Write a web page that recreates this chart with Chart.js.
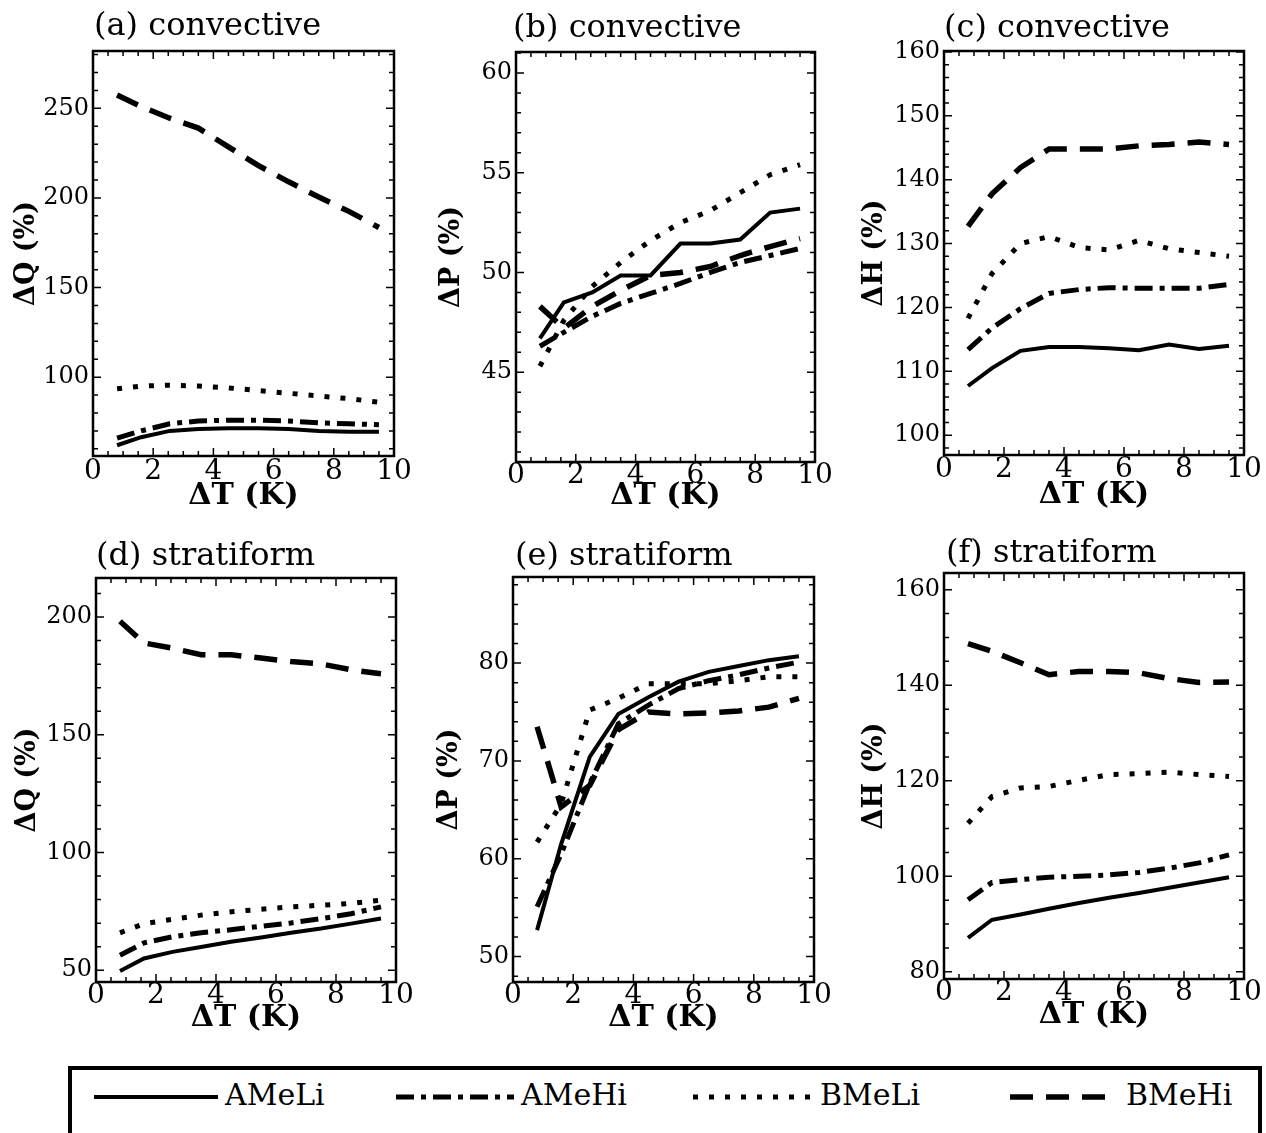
<!DOCTYPE html>
<html><head><meta charset="utf-8">
<script src="https://cdn.jsdelivr.net/npm/chart.js@4.4.1/dist/chart.umd.min.js"></script>
<style>
html,body{margin:0;padding:0;background:#fff;width:1266px;height:1133px;overflow:hidden;position:relative;}
canvas{position:absolute;}
#legendBox{position:absolute;left:68px;top:1066px;width:1186px;height:100px;border:4px solid #000;}
.lt{position:absolute;font-family:'DejaVu Serif';font-size:30px;line-height:30px;color:#000;white-space:nowrap;}
#legendSvg{position:absolute;left:0;top:1066px;}
</style></head><body>
<div id="legendBox"></div>
<svg id="legendSvg" width="1266" height="67"></svg>
<script>
// ---------- DATA ----------
const deltaT = [0.8, 1.6, 2.55, 3.5, 4.5, 5.5, 6.5, 7.5, 8.5, 9.5];
const xTickLabels = [0, 2, 4, 6, 8, 10];
const seriesNames = ['AMeLi', 'AMeHi', 'BMeLi', 'BMeHi'];

// (a) convective ΔQ
const a_AMeLi = [62, 66.5, 70, 71, 71.5, 71.5, 71, 70, 69.5, 69.5];
const a_AMeHi = [66, 70, 74, 75.5, 76, 76, 75.5, 74.5, 74, 73.5];
const a_BMeLi = [93.5, 95, 95.5, 95, 94, 92.5, 91, 89.5, 88, 86];
const a_BMeHi = [257.5, 251, 244.5, 239, 228.5, 218, 209, 200.5, 192.5, 183.5];
// (b) convective ΔP
const b_AMeLi = [46.7, 48.5, 49.0, 49.85, 49.85, 51.45, 51.45, 51.65, 53.0, 53.2];
const b_AMeHi = [46.3, 47.0, 47.8, 48.45, 48.95, 49.45, 50.0, 50.5, 50.85, 51.2];
const b_BMeLi = [45.3, 47.6, 49.3, 50.5, 51.6, 52.5, 53.1, 54.0, 54.9, 55.4];
const b_BMeHi = [48.3, 47.2, 48.3, 49.1, 49.85, 50.0, 50.3, 50.85, 51.3, 51.7];
// (c) convective ΔH
const c_AMeLi = [107.7, 110.5, 113.2, 113.8, 113.8, 113.6, 113.3, 114.2, 113.5, 114.0];
const c_AMeHi = [113.4, 116.8, 119.8, 122.2, 122.8, 123.1, 123.0, 123.0, 123.0, 123.6];
const c_BMeLi = [118.3, 125.3, 130.0, 131.1, 129.4, 129.0, 130.5, 129.2, 128.6, 128.0];
const c_BMeHi = [132.7, 137.8, 141.9, 144.8, 144.8, 144.8, 145.3, 145.5, 145.9, 145.5];
// (d) stratiform ΔQ
const d_AMeLi = [49.7, 55.0, 57.8, 59.9, 62.1, 63.9, 65.9, 67.7, 69.8, 72.0];
const d_AMeHi = [56.4, 61.6, 64.2, 65.9, 67.2, 68.7, 70.1, 71.9, 74.0, 76.9];
const d_BMeLi = [65.9, 69.8, 71.6, 73.4, 74.8, 75.9, 76.9, 77.6, 78.4, 79.8];
const d_BMeHi = [198.2, 189.0, 186.8, 184.0, 184.0, 182.6, 181.1, 180.1, 177.6, 175.9];
// (e) stratiform ΔP
const e_AMeLi = [52.7, 61.5, 70.4, 74.8, 76.5, 78.1, 79.1, 79.7, 80.3, 80.7];
const e_AMeHi = [55.1, 60.5, 67.7, 73.8, 75.7, 77.4, 78.2, 78.8, 79.5, 80.1];
const e_BMeLi = [61.7, 65.6, 75.2, 76.4, 77.9, 77.9, 77.9, 78.2, 78.6, 78.6];
const e_BMeHi = [73.5, 65.3, 67.5, 73.2, 75.0, 74.8, 74.9, 75.1, 75.5, 76.4];
// (f) stratiform ΔH
const f_AMeLi = [87.1, 90.9, 92.0, 93.2, 94.4, 95.5, 96.5, 97.6, 98.7, 99.8];
const f_AMeHi = [95.1, 98.7, 99.3, 99.8, 100.0, 100.3, 100.8, 101.7, 102.8, 104.5];
const f_BMeLi = [111.1, 116.7, 118.5, 118.8, 120.1, 121.3, 121.5, 121.8, 121.3, 120.9];
const f_BMeHi = [148.7, 147.1, 144.7, 142.2, 142.9, 142.9, 142.6, 141.4, 140.6, 140.7];

const panelTitles = ['(a) convective', '(b) convective', '(c) convective', '(d) stratiform', '(e) stratiform', '(f) stratiform'];
const yAxisTitles = ['ΔQ (%)', 'ΔP (%)', 'ΔH (%)', 'ΔQ (%)', 'ΔP (%)', 'ΔH (%)'];
const xAxisTitle = 'ΔT (K)';

const yTicksA = [100, 150, 200, 250];
const yTicksB = [45, 50, 55, 60];
const yTicksC = [100, 110, 120, 130, 140, 150, 160];
const yTicksD = [50, 100, 150, 200];
const yTicksE = [50, 60, 70, 80];
const yTicksF = [80, 100, 120, 140, 160];

const yRanges = [[56, 282], [40.5, 61.05], [96.9, 160.15], [45, 216.6], [47.4, 88.8], [78.5, 163.5]];
const yMinorSteps = [10, 1, 2, 10, 2, 5];

const panelValues = [
  [a_AMeLi, a_AMeHi, a_BMeLi, a_BMeHi],
  [b_AMeLi, b_AMeHi, b_BMeLi, b_BMeHi],
  [c_AMeLi, c_AMeHi, c_BMeLi, c_BMeHi],
  [d_AMeLi, d_AMeHi, d_BMeLi, d_BMeHi],
  [e_AMeLi, e_AMeHi, e_BMeLi, e_BMeHi],
  [f_AMeLi, f_AMeHi, f_BMeLi, f_BMeHi]
];
const panelYTicks = [yTicksA, yTicksB, yTicksC, yTicksD, yTicksE, yTicksF];

// ---------- STYLES / LAYOUT ----------
const lineStyles = [
  {width: 4, dash: []},
  {width: 5, dash: [18, 7, 5, 7]},
  {width: 5, dash: [5, 11]},
  {width: 5.5, dash: [23, 13]}
];
const FONT = 'DejaVu Serif';
const YAXW = 93, PADT = 51, PADR = 24, XAXH = 62;
const layouts = [
  {L: 93, R: 394, T: 51, B: 456, dx: 1, dy: 16, yGap: 66, xLab: 472, xTit: 496},
  {L: 516, R: 815, T: 52, B: 462, dx: -3, dy: 15, yGap: 64.5, xLab: 471, xTit: 496},
  {L: 944, R: 1244, T: 51, B: 455, dx: 0, dy: 14, yGap: 69.5, xLab: 470, xTit: 495},
  {L: 96, R: 396, T: 578, B: 982, dx: 0, dy: 13, yGap: 68.5, xLab: 995, xTit: 1018},
  {L: 513, R: 814, T: 577, B: 982, dx: 2, dy: 12, yGap: 63.5, xLab: 995, xTit: 1018},
  {L: 944, R: 1244, T: 573, B: 979, dx: 2, dy: 11, yGap: 69.5, xLab: 991, xTit: 1015}
];

const decor = {
  id: 'panelDecor',
  afterDatasetsDraw(chart, args, opts) {
    const {ctx, chartArea} = chart;
    const {left, right, top, bottom} = chartArea;
    const xs = chart.scales.x, ys = chart.scales.y;
    ctx.save();
    ctx.strokeStyle = '#000';
    ctx.lineWidth = 1.5;
    ctx.beginPath();
    const nx = Math.round((xs.max - xs.min) / opts.xMinor);
    for (let k = 0; k <= nx; k++) {
      const v = xs.min + k * opts.xMinor;
      const px = xs.getPixelForValue(v);
      const len = opts.xMajor.includes(v) ? 8 : 5;
      ctx.moveTo(px, bottom); ctx.lineTo(px, bottom - len);
      ctx.moveTo(px, top); ctx.lineTo(px, top + len);
    }
    const start = Math.ceil(ys.min / opts.yMinor - 1e-9);
    const end = Math.floor(ys.max / opts.yMinor + 1e-9);
    for (let k = start; k <= end; k++) {
      const v = k * opts.yMinor;
      const py = ys.getPixelForValue(v);
      const len = opts.yMajor.some(t => Math.abs(t - v) < 1e-6) ? 8 : 5;
      ctx.moveTo(left, py); ctx.lineTo(left + len, py);
      ctx.moveTo(right, py); ctx.lineTo(right - len, py);
    }
    ctx.stroke();
    ctx.lineWidth = 2.5;
    ctx.strokeRect(left, top, right - left, bottom - top);
    ctx.fillStyle = '#000';
    ctx.font = '32px "' + FONT + '"';
    ctx.textBaseline = 'alphabetic';
    ctx.textAlign = 'left';
    ctx.fillText(opts.text, left + opts.dx, top - opts.dy);
    ctx.restore();
  }
};

panelValues.forEach((vals, i) => {
  const g = layouts[i];
  const W = (g.R - g.L) + YAXW + PADR;
  const H = (g.B - g.T) + PADT + XAXH;
  const cv = document.createElement('canvas');
  cv.width = W; cv.height = H;
  cv.style.left = (g.L - YAXW) + 'px';
  cv.style.top = (g.T - PADT) + 'px';
  cv.style.width = W + 'px'; cv.style.height = H + 'px';
  document.body.appendChild(cv);
  const yt = panelYTicks[i];
  new Chart(cv, {
    type: 'line',
    data: {
      datasets: seriesNames.map((name, s) => ({
        label: name,
        data: deltaT.map((x, j) => ({x: x, y: vals[s][j]})),
        borderColor: '#000',
        backgroundColor: '#000',
        borderWidth: lineStyles[s].width,
        borderDash: lineStyles[s].dash,
        borderCapStyle: 'butt',
        borderJoinStyle: 'miter',
        pointRadius: 0,
        fill: false,
        tension: 0
      }))
    },
    options: {
      responsive: false,
      animation: false,
      devicePixelRatio: 1,
      layout: {padding: {top: PADT, right: PADR, left: 0, bottom: 0}},
      plugins: {
        legend: {display: false},
        tooltip: {enabled: false},
        panelDecor: {text: panelTitles[i], dx: g.dx, dy: g.dy, xMinor: 0.5, xMajor: xTickLabels, yMinor: yMinorSteps[i], yMajor: yt}
      },
      scales: {
        x: {
          type: 'linear', min: 0, max: 10,
          afterBuildTicks: s => { s.ticks = xTickLabels.map(v => ({value: v})); },
          afterFit: s => { s.height = XAXH; },
          grid: {display: false, drawTicks: false},
          border: {display: false},
          ticks: {color: '#000', font: {family: FONT, size: 28, lineHeight: 1}, padding: Math.max(0, (g.xLab - g.B) - 14), maxRotation: 0, autoSkip: false},
          title: {display: true, text: xAxisTitle, color: '#000', font: {family: FONT, size: 30, weight: 'bold'}, padding: {top: 0, bottom: XAXH - (g.xTit - g.B) - 18}}
        },
        y: {
          type: 'linear', min: yRanges[i][0], max: yRanges[i][1],
          afterBuildTicks: s => { s.ticks = yt.map(v => ({value: v})); },
          afterFit: s => { s.width = YAXW; },
          grid: {display: false, drawTicks: false},
          border: {display: false},
          ticks: {color: '#000', font: {family: FONT, size: 24}, padding: 4, autoSkip: false},
          title: {display: true, text: yAxisTitles[i], color: '#000', font: {family: FONT, size: 27, weight: 'bold'}, padding: {top: YAXW - g.yGap - 16.2, bottom: 0}}
        }
      }
    },
    plugins: [decor]
  });
});

// ---------- LEGEND ----------
const legendItems = [
  {x1: 94, x2: 218, tx: 225},
  {x1: 396, x2: 514, tx: 521},
  {x1: 693, x2: 814, tx: 820},
  {x1: 1010, x2: 1110, tx: 1126}
];
const svg = document.getElementById('legendSvg');
const NS = 'http://www.w3.org/2000/svg';
seriesNames.forEach((name, s) => {
  const it = legendItems[s];
  const ln = document.createElementNS(NS, 'line');
  ln.setAttribute('x1', it.x1); ln.setAttribute('x2', it.x2);
  ln.setAttribute('y1', 31); ln.setAttribute('y2', 31);
  ln.setAttribute('stroke', '#000');
  ln.setAttribute('stroke-width', lineStyles[s].width);
  if (lineStyles[s].dash.length) ln.setAttribute('stroke-dasharray', lineStyles[s].dash.join(' '));
  svg.appendChild(ln);
  const t = document.createElement('div');
  t.className = 'lt';
  t.textContent = name;
  t.style.left = it.tx + 'px';
  t.style.top = '1080px';
  document.body.appendChild(t);
});
</script>
</body></html>
